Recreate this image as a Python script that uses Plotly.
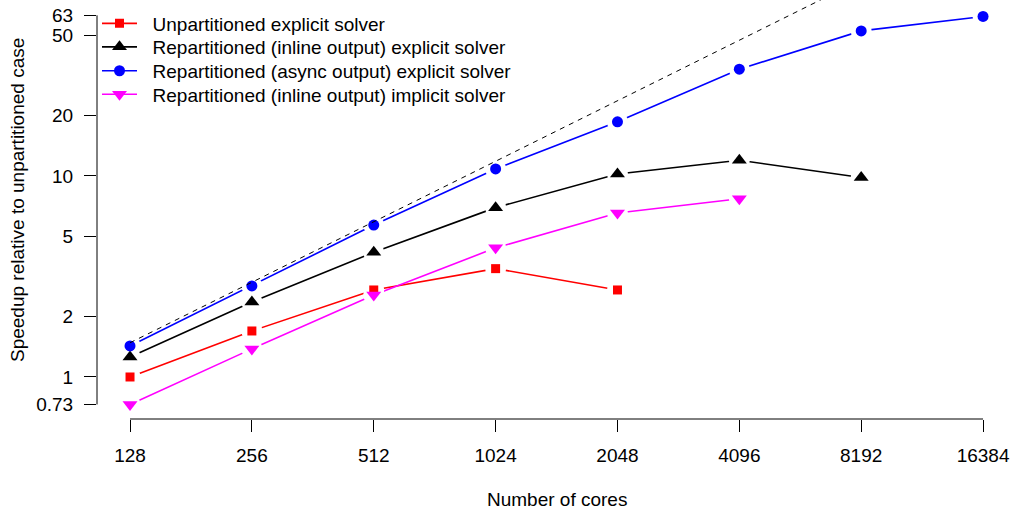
import plotly.graph_objects as go
import math

# ---- data ----
cores = [128, 256, 512, 1024, 2048, 4096, 8192, 16384]
core_labels = ["128", "256", "512", "1024", "2048", "4096", "8192", "16384"]

unpart_explicit = [1.0, 1.694, 2.71, 3.46, 2.71]
repart_inline_explicit = [1.257, 2.36, 4.17, 6.96, 10.23, 11.98, 9.82]
repart_async_explicit = [1.427, 2.84, 5.70, 10.84, 18.6, 34.0, 52.7, 62.2]
repart_inline_implicit = [0.73, 1.38, 2.56, 4.39, 6.54, 7.70]

ideal_cores = [128, 16384]
ideal_speedup = [1.48, 189.4]

y_ticks = [0.73, 1, 2, 5, 10, 20, 50, 63]
y_ticklabels = ["0.73", "1", "2", "5", "10", "20", "50", "63"]

series_names = [
    "Unpartitioned explicit solver",
    "Repartitioned (inline output) explicit solver",
    "Repartitioned (async output) explicit solver",
    "Repartitioned (inline output) implicit solver",
]
series_colors = ["#ff0000", "#000000", "#0000ff", "#ff00ff"]
series_symbols = ["square", "triangle-up", "circle", "triangle-down"]
series_sizes = [9, 13, 11, 13]
series_values = [unpart_explicit, repart_inline_explicit,
                 repart_async_explicit, repart_inline_implicit]

FONT = "Liberation Sans, Arial, Helvetica, sans-serif"
PLOT_H = 419.0
PLOT_W = 917.0
NB = "\u00a0\u00a0"

fig = go.Figure()

legend_rows = [23.5, 47.0, 70.9, 94.4]
legend_ids = ["legend", "legend2", "legend3", "legend4"]

# 1) connecting lines (these traces also provide the legend entries)
for name, col, sym, sz, vals, lid in zip(series_names, series_colors, series_symbols,
                                         series_sizes, series_values, legend_ids):
    fig.add_trace(go.Scatter(
        x=cores[:len(vals)], y=vals, mode="lines+markers", name=NB + name,
        line=dict(color=col, width=1.6),
        marker=dict(color=col, symbol=sym, size=sz, line=dict(width=0)),
        legend=lid, hoverinfo="skip"))

# 2) white gaps around points (R type="b" look)
for vals in series_values:
    fig.add_trace(go.Scatter(
        x=cores[:len(vals)], y=vals, mode="markers",
        marker=dict(color="white", symbol="circle", size=21, line=dict(width=0)),
        showlegend=False, hoverinfo="skip"))

# 3) the point symbols
for name, col, sym, sz, vals in zip(series_names, series_colors, series_symbols,
                                    series_sizes, series_values):
    fig.add_trace(go.Scatter(
        x=cores[:len(vals)], y=vals, mode="markers", name=name,
        marker=dict(color=col, symbol=sym, size=sz, line=dict(width=0)),
        showlegend=False))

# 4) ideal (dashed) line
fig.add_trace(go.Scatter(
    x=ideal_cores, y=ideal_speedup, mode="lines",
    line=dict(color="black", width=1, dash="5px,5px"),
    showlegend=False, hoverinfo="skip"))

legend_common = dict(x=0, xanchor="left", yanchor="middle",
                     bgcolor="rgba(0,0,0,0)", borderwidth=0,
                     font=dict(family=FONT, size=19, color="black"),
                     itemwidth=35, tracegroupgap=0)
layout_legends = {}
for lid, row in zip(legend_ids, legend_rows):
    layout_legends[lid] = dict(legend_common, y=1 - row / PLOT_H)

log2 = math.log10(2)
fig.update_layout(
    width=1014, height=514,
    margin=dict(l=97, r=0, t=0, b=95, pad=0, autoexpand=False),
    paper_bgcolor="white", plot_bgcolor="white",
    font=dict(family=FONT, size=19, color="black"),
    xaxis=dict(type="log", range=[6.729 * log2, 14.254 * log2],
               tickvals=cores, ticktext=core_labels,
               ticks="outside", ticklen=12, tickwidth=1, tickcolor="black",
               showline=False, showgrid=False, zeroline=False,
               ticklabelstandoff=7,
               tickfont=dict(family=FONT, size=19, color="black")),
    yaxis=dict(type="log", range=[-0.209, 1.8756],
               tickvals=y_ticks, ticktext=y_ticklabels,
               ticks="outside", ticklen=12, tickwidth=1, tickcolor="black",
               showline=False, showgrid=False, zeroline=False,
               ticklabelstandoff=7,
               tickfont=dict(family=FONT, size=19, color="black")),
    showlegend=True,
    hovermode=False,
    **layout_legends,
)

# axis lines spanning the tick range (R style)
fig.add_shape(type="line", xref="x", yref="paper",
              x0=cores[0], x1=cores[-1], y0=0, y1=0,
              line=dict(color="black", width=1))
fig.add_shape(type="line", xref="paper", yref="y",
              x0=0, x1=0, y0=y_ticks[0], y1=y_ticks[-1],
              line=dict(color="black", width=1))

fig.add_annotation(text="Number of cores", xref="paper", yref="paper",
                   x=(557 - 97) / PLOT_W, y=-(500 - PLOT_H) / PLOT_H,
                   xanchor="center", yanchor="middle", showarrow=False,
                   font=dict(family=FONT, size=19, color="black"))
fig.add_annotation(text="Speedup relative to unpartitioned case", xref="paper", yref="paper",
                   x=-(97 - 18) / PLOT_W, y=1 - 200 / PLOT_H, textangle=-90,
                   xanchor="center", yanchor="middle", showarrow=False,
                   font=dict(family=FONT, size=19, color="black"))

fig.write_html("out.html", config={"displayModeBar": False},
               post_script="document.body.style.margin='0';document.body.style.padding='0';")
